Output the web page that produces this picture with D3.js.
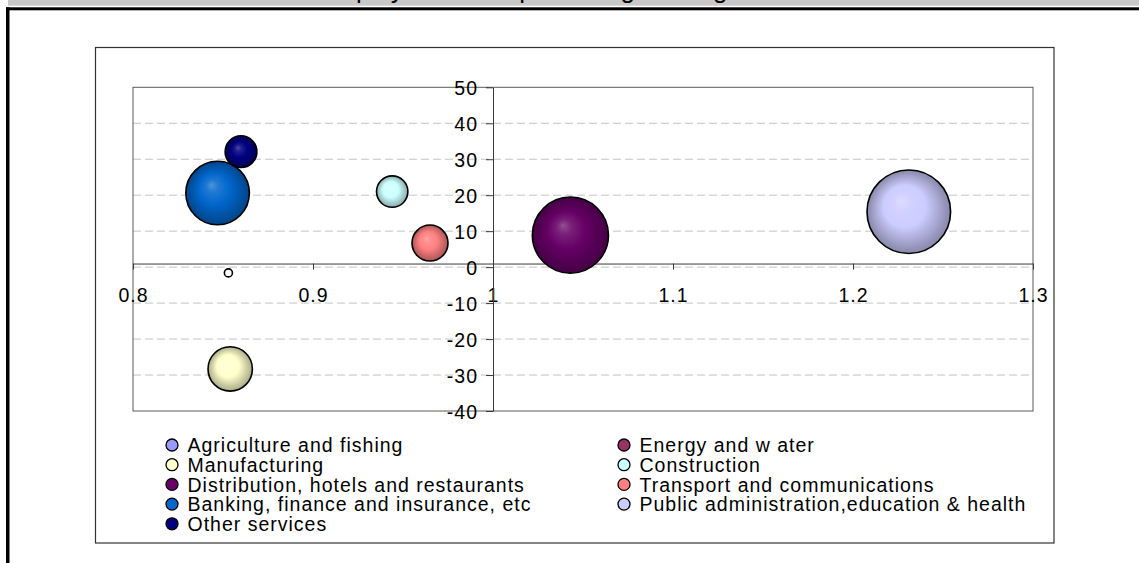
<!DOCTYPE html>
<html>
<head>
<meta charset="utf-8">
<script src="https://cdn.jsdelivr.net/npm/d3@7/dist/d3.min.js"></script>
<style>
  html, body { margin: 0; padding: 0; background: #ffffff; }
  svg { display: block; }
  text { font-family: "Liberation Sans", Arial, Helvetica, sans-serif; fill: #000; }
</style>
</head>
<body>
<svg id="chart" width="1139" height="563"></svg>
<script>
// Sectors, in series order
const sectors = [
  "Agriculture and fishing",
  "Energy and w ater",
  "Manufacturing",
  "Construction",
  "Distribution, hotels and restaurants",
  "Transport and communications",
  "Banking, finance and insurance, etc",
  "Public administration,education & health",
  "Other services"
];
// Location quotient (x)
const lqValues = [0.853, null, 0.854, 0.944, 1.043, 0.965, 0.847, 1.231, 0.860];
// Percentage change in employment (y)
const changeValues = [-1.6, null, -28.3, 21.0, 8.9, 6.7, 20.6, 15.4, 32.1];
// Share of employment (bubble size)
const shareValues = [0.25, null, 7.6, 3.8, 22.4, 5.0, 15.6, 27.0, 3.9];
const sectorColors = ["#9999ff", "#993366", "#ffffcc", "#ccffff", "#660066", "#ff8080", "#0066cc", "#ccccff", "#000080"];

const xTicks = [0.8, 0.9, 1.0, 1.1, 1.2, 1.3];
const xTickLabels = ["0.8", "0.9", "1", "1.1", "1.2", "1.3"];
const yTicks = [-40, -30, -20, -10, 0, 10, 20, 30, 40, 50];
const titleText = "Employment and percentage change";

const svg = d3.select("#chart");
const defs = svg.append("defs");

// Window frame and title strip
svg.append("rect").attr("x", 8).attr("y", 0).attr("width", 1131).attr("height", 5.7).attr("fill", "#c8c8c8");
svg.append("text").attr("x", 317).attr("y", -2.5).style("font-size", "26px").text(titleText);
svg.append("rect").attr("x", 6).attr("y", 7.3).attr("width", 1133).attr("height", 3).attr("fill", "#000");
svg.append("rect").attr("x", 6).attr("y", 7.3).attr("width", 3.5).attr("height", 556).attr("fill", "#000");

// Chart area border
svg.append("rect").attr("x", 95.5).attr("y", 47.5).attr("width", 958.5).attr("height", 495.5)
  .attr("fill", "none").attr("stroke", "#333").attr("stroke-width", 1.2);

const plot = { left: 133, right: 1033, top: 87.3, bottom: 411 };
const x = d3.scaleLinear().domain([0.8, 1.3]).range([plot.left, plot.right]);
const y = d3.scaleLinear().domain([-40, 50]).range([plot.bottom, plot.top]);
const r = d3.scaleSqrt().domain([0, 27]).range([0, 41.8]);

const fontPx = "19.5px";

// Dashed gridlines
svg.append("g").selectAll("line")
  .data(yTicks.filter(v => v > -40 && v < 50))
  .join("line")
  .attr("x1", plot.left).attr("x2", plot.right)
  .attr("y1", d => y(d)).attr("y2", d => y(d))
  .attr("stroke", "#c4c4c4").attr("stroke-width", 1).attr("stroke-dasharray", "8,4");

// Plot area border
svg.append("rect").attr("x", plot.left).attr("y", plot.top)
  .attr("width", plot.right - plot.left).attr("height", plot.bottom - plot.top)
  .attr("fill", "none").attr("stroke", "#5a5a5a").attr("stroke-width", 1);

// Horizontal axis crossing at 1, vertical axis crossing at 1
const xAxisAt = 1;
const yAxisAt = 1;

const xAxisG = svg.append("g").attr("transform", `translate(0,${y(xAxisAt)})`)
  .call(d3.axisBottom(x).tickValues(xTicks).tickSize(6).tickSizeOuter(0)
    .tickFormat((d, i) => xTickLabels[i]));
xAxisG.select(".domain").attr("stroke", "#3a3a3a");
xAxisG.selectAll(".tick line").attr("stroke", "#3a3a3a");
xAxisG.selectAll(".tick text")
  .attr("y", 301.7 - y(xAxisAt)).attr("dy", 0)
  .style("font-size", fontPx).style("letter-spacing", "1px")
  .attr("font-family", null).attr("fill", "#000");

const yAxisG = svg.append("g").attr("transform", `translate(${x(yAxisAt)},0)`)
  .call(d3.axisLeft(y).tickValues(yTicks).tickSize(7).tickSizeOuter(0).tickFormat(d => String(d)));
yAxisG.select(".domain").attr("stroke", "#3a3a3a");
yAxisG.selectAll(".tick line").attr("stroke", "#3a3a3a");
yAxisG.selectAll(".tick text")
  .attr("x", -15).attr("dy", "0.36em")
  .style("font-size", fontPx).style("letter-spacing", "1px")
  .attr("font-family", null).attr("fill", "#000");

// Shaded bubble fills: light spot up-left, darker rim
sectorColors.forEach((c, i) => {
  const g = defs.append("radialGradient").attr("id", "bub" + i)
    .attr("cx", "50%").attr("cy", "50%").attr("r", "50%")
    .attr("fx", "40%").attr("fy", "37%");
  const base = d3.color(c);
  g.append("stop").attr("offset", "0%").attr("stop-color", d3.interpolateRgb(c, "#ffffff")(0.3));
  g.append("stop").attr("offset", "20%").attr("stop-color", d3.interpolateRgb(c, "#ffffff")(0.12));
  g.append("stop").attr("offset", "50%").attr("stop-color", base.formatHex());
  g.append("stop").attr("offset", "100%").attr("stop-color", base.darker(1.15).formatHex());
});

const bubbles = sectors.map((s, i) => ({
  name: s, lq: lqValues[i], change: changeValues[i], share: shareValues[i], idx: i
})).filter(d => d.lq != null && d.change != null && d.share != null);

svg.append("g").selectAll("circle")
  .data(bubbles)
  .join("circle")
  .attr("cx", d => x(d.lq))
  .attr("cy", d => y(d.change))
  .attr("r", d => r(d.share))
  .attr("fill", d => r(d.share) < 5 ? "#ffffff" : `url(#bub${d.idx})`)
  .attr("stroke", "#000").attr("stroke-width", 1.6);

// Legend: two columns, filled row by row
const legend = svg.append("g");
const colX = [172, 624];
const rowY0 = 445, rowStep = 19.7;
sectors.forEach((s, i) => {
  const cx = colX[i % 2];
  const cy = rowY0 + Math.floor(i / 2) * rowStep;
  legend.append("circle").attr("cx", cx).attr("cy", cy).attr("r", 6)
    .attr("fill", sectorColors[i]).attr("stroke", "#000").attr("stroke-width", 1.3);
  legend.append("text").attr("x", cx + 15.5).attr("y", cy + 7.2)
    .style("font-size", fontPx).style("letter-spacing", "1px").text(s);
});
</script>
</body>
</html>
